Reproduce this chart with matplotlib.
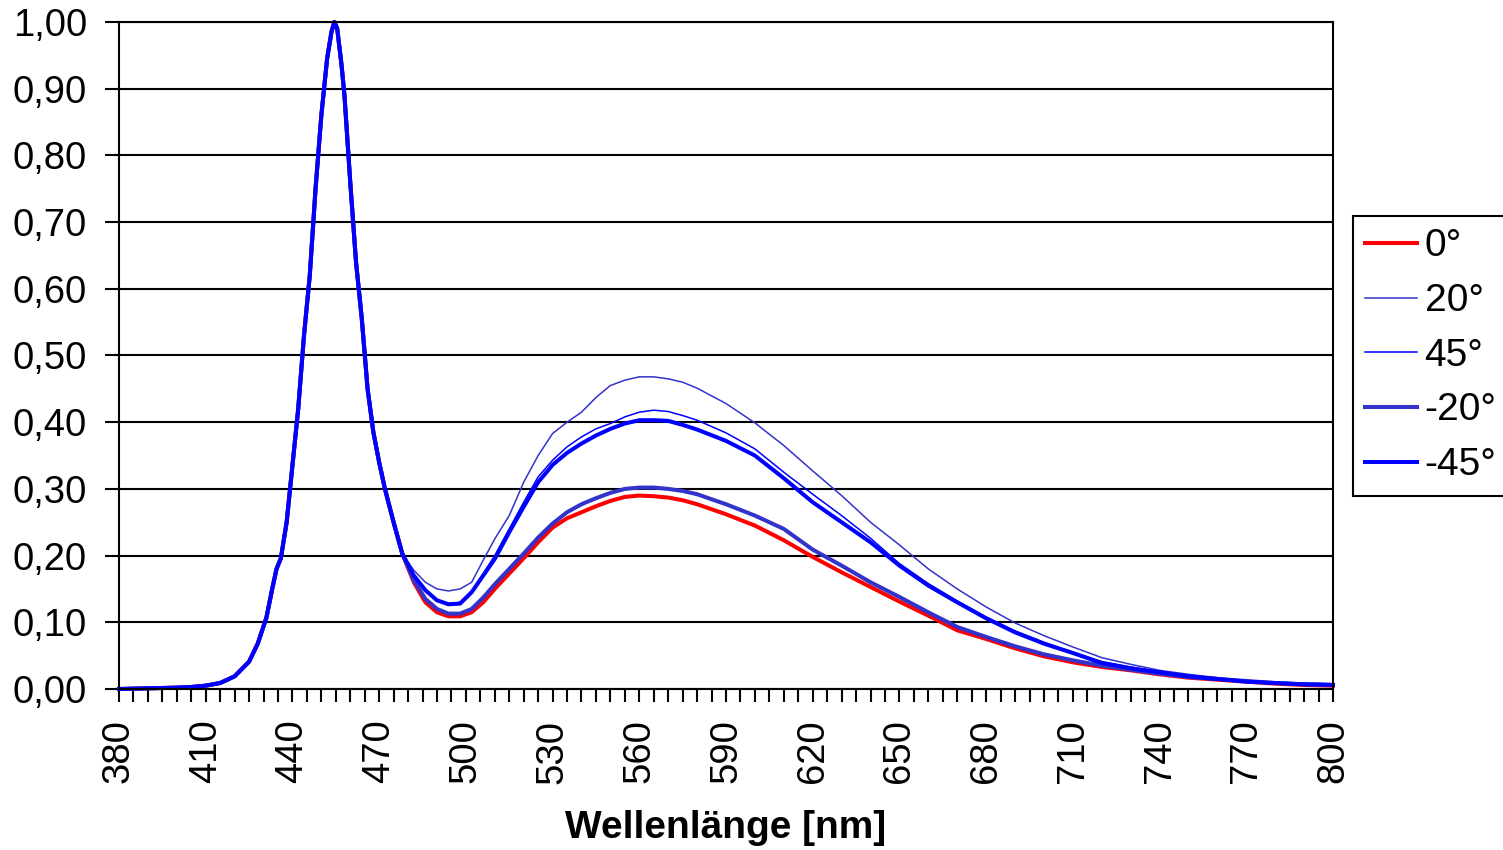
import matplotlib
matplotlib.use("Agg")
import matplotlib.pyplot as plt
from matplotlib.ticker import MultipleLocator, FuncFormatter

plt.rcParams['font.family'] = ['Liberation Sans', 'DejaVu Sans']

# Wavelength grid [nm]
wl_peak = [380, 390, 400, 405, 410, 415, 420, 425, 428, 431, 433, 434.5, 436, 438,
           440, 442, 444, 446, 448, 450, 452, 453.5, 454.5, 455.5, 457, 458, 460, 462, 464,
           466, 468, 470, 472, 475, 478]
wl_tail = [482, 486, 490, 494, 498, 502, 506, 510, 515, 520, 525, 530, 535, 540,
           545, 550, 555, 560, 565, 570, 575, 580, 590, 600, 610, 620, 630, 640,
           650, 660, 670, 680, 690, 700, 710, 720, 730, 740, 750, 760, 770, 780,
           790, 800]

# Common blue-LED peak (identical for all angles)
peak_common = [0.000, 0.001, 0.002, 0.003, 0.005, 0.009, 0.019, 0.041, 0.068, 0.107,
               0.150, 0.180, 0.196, 0.250, 0.335, 0.420, 0.530, 0.620, 0.750, 0.860,
               0.945, 0.985, 1.000, 0.990, 0.935, 0.890, 0.760, 0.640, 0.555, 0.450,
               0.385, 0.340, 0.300, 0.250, 0.203]

# Phosphor part per angle
tail_0 = [0.160, 0.130, 0.115, 0.109, 0.109, 0.115, 0.130, 0.150, 0.173, 0.196,
          0.220, 0.242, 0.256, 0.265, 0.274, 0.282, 0.288, 0.290, 0.289, 0.287,
          0.283, 0.277, 0.262, 0.245, 0.223, 0.198, 0.175, 0.153, 0.131, 0.110,
          0.088, 0.075, 0.061, 0.049, 0.040, 0.033, 0.028, 0.022, 0.017, 0.014,
          0.011, 0.008, 0.006, 0.005]
tail_20 = [0.178, 0.160, 0.150, 0.147, 0.150, 0.160, 0.193, 0.225, 0.260, 0.310,
           0.350, 0.383, 0.400, 0.415, 0.437, 0.455, 0.463, 0.468, 0.468, 0.465,
           0.460, 0.451, 0.428, 0.399, 0.365, 0.327, 0.290, 0.250, 0.216, 0.180,
           0.150, 0.123, 0.099, 0.080, 0.063, 0.047, 0.037, 0.028, 0.022, 0.017,
           0.012, 0.010, 0.009, 0.008]
tail_45 = [0.172, 0.150, 0.134, 0.128, 0.130, 0.147, 0.173, 0.200, 0.240, 0.280,
           0.318, 0.343, 0.363, 0.378, 0.390, 0.398, 0.408, 0.415, 0.418, 0.416,
           0.410, 0.403, 0.384, 0.360, 0.325, 0.292, 0.260, 0.226, 0.188, 0.158,
           0.132, 0.108, 0.087, 0.070, 0.055, 0.041, 0.033, 0.026, 0.020, 0.016,
           0.012, 0.010, 0.008, 0.007]
tail_m20 = [0.163, 0.135, 0.120, 0.113, 0.113, 0.120, 0.137, 0.157, 0.180, 0.203,
            0.227, 0.248, 0.265, 0.277, 0.286, 0.294, 0.300, 0.302, 0.302, 0.300,
            0.297, 0.292, 0.277, 0.260, 0.240, 0.209, 0.185, 0.160, 0.138, 0.115,
            0.093, 0.078, 0.064, 0.052, 0.043, 0.035, 0.029, 0.023, 0.018, 0.015,
            0.012, 0.009, 0.007, 0.006]
tail_m45 = [0.170, 0.148, 0.133, 0.127, 0.128, 0.145, 0.170, 0.195, 0.235, 0.273,
            0.310, 0.336, 0.354, 0.368, 0.380, 0.390, 0.398, 0.403, 0.403, 0.402,
            0.396, 0.389, 0.372, 0.350, 0.316, 0.280, 0.250, 0.220, 0.185, 0.155,
            0.130, 0.106, 0.085, 0.068, 0.054, 0.039, 0.031, 0.025, 0.019, 0.015,
            0.011, 0.009, 0.007, 0.006]

x_ticks = [380, 410, 440, 470, 500, 530, 560, 590, 620, 650, 680, 710, 740, 770, 800]

labels = ['0°', '20°', '45°', '-20°', '-45°']
colors = ['#FF0000', '#3333CC', '#0000FF', '#3333CC', '#0000FF']
widths = [2.9, 1.1, 1.1, 2.9, 2.9]
tails = [tail_0, tail_20, tail_45, tail_m20, tail_m45]

wl = wl_peak + wl_tail

fig = plt.figure(figsize=(15.03, 8.5), dpi=100)
ax = fig.add_axes([119 / 1503, 1 - 689 / 850, (1333 - 119) / 1503, (689 - 22) / 850])

for lab, col, lw, tail in zip(labels, colors, widths, tails):
    ax.plot(wl, peak_common + tail, color=col, lw=lw, label=lab,
            solid_joinstyle='round', clip_on=False)

ax.set_xlim(380, 800)
ax.set_ylim(0, 1.0)
ax.set_xticks(x_ticks)
ax.xaxis.set_minor_locator(MultipleLocator(5))
ax.yaxis.set_major_locator(MultipleLocator(0.1))
ax.yaxis.set_major_formatter(FuncFormatter(lambda v, p: f"{v:.2f}".replace('.', ',')))

ax.grid(axis='y', color='black', lw=1.5)
ax.set_axisbelow(True)
for s in ax.spines.values():
    s.set_color('black')
    s.set_linewidth(1.5)

ax.tick_params(axis='y', which='major', direction='out', length=10, width=1.5,
               labelsize=27.5, pad=13)
ax.tick_params(axis='x', which='both', direction='out', length=9, width=1.5)
ax.tick_params(axis='x', which='major', labelsize=27.5, pad=13, labelrotation=90)

fig.text(726 / 1503, 1 - 828 / 850, 'Wellenlänge [nm]', ha='center', va='center',
         fontsize=28, fontweight='bold')

leg = ax.legend(loc='upper left', bbox_to_anchor=(1353 / 1503, 1 - 216 / 850),
                bbox_transform=fig.transFigure, fontsize=28, frameon=True,
                fancybox=False, edgecolor='black', framealpha=1,
                handlelength=1.32, handletextpad=0.2, labelspacing=0.48,
                borderpad=0.32, borderaxespad=0)
leg.get_frame().set_linewidth(1.5)

fig.savefig('out.png', dpi=100)
